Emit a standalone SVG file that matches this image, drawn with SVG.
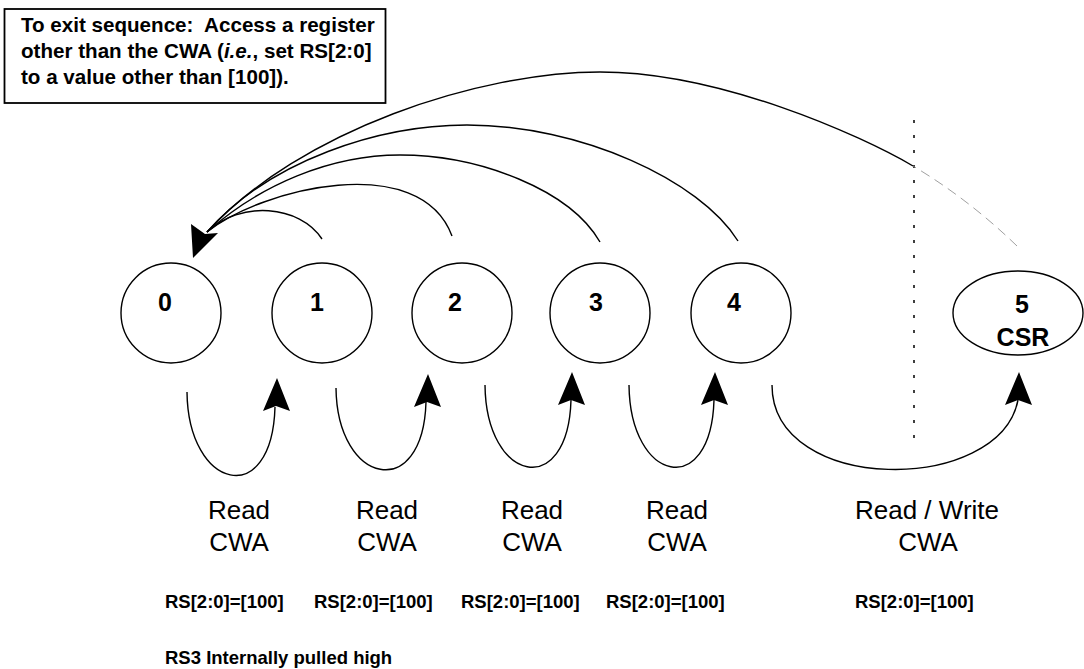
<svg xmlns="http://www.w3.org/2000/svg" xmlns:xlink="http://www.w3.org/1999/xlink" width="1084" height="669" viewBox="0 0 1084 669">
<style>
.node{fill:none;stroke:#000;stroke-width:1.4}
.conn{fill:none;stroke:#000;stroke-width:1.4}
.faint{fill:none;stroke:#888;stroke-width:0.8;stroke-dasharray:10 6}
.sep{fill:none;stroke:#000;stroke-width:1.5;stroke-dasharray:3 12}
.head{fill:#000;stroke:none}
.num{font-family:"Liberation Sans",Arial,sans-serif;font-weight:bold;font-size:25px;text-anchor:middle}
.lbl{font-family:"Liberation Sans",Arial,sans-serif;font-size:26px;text-anchor:middle}
.rs{font-family:"Liberation Sans",Arial,sans-serif;font-weight:bold;font-size:18.5px}
.note{font-family:"Liberation Sans",Arial,sans-serif;font-weight:bold;font-size:20.6px}
</style>
<defs>
<path id="upHead" d="M0,0 L13,33 L-1,28 L-14,33 Z"/>
</defs>
<rect width="1084" height="669" fill="#fff"/>

<g id="note">
<rect x="4.5" y="9" width="381" height="94" fill="#fff" stroke="#000" stroke-width="1.8"/>
<text class="note" x="21" y="32" xml:space="preserve">To exit sequence:  Access a register</text>
<text class="note" x="21" y="58">other than the CWA (<tspan font-style="italic">i.e.</tspan>, set RS[2:0]</text>
<text class="note" x="21" y="84">to a value other than [100]).</text>
</g>

<g id="node0"><circle class="node" cx="171" cy="313" r="50"/><text class="num" x="165" y="311">0</text></g>
<g id="node1"><circle class="node" cx="322" cy="313" r="50"/><text class="num" x="317" y="311">1</text></g>
<g id="node2"><circle class="node" cx="462" cy="313" r="50"/><text class="num" x="455" y="311">2</text></g>
<g id="node3"><circle class="node" cx="600" cy="313" r="50"/><text class="num" x="596" y="311">3</text></g>
<g id="node4"><circle class="node" cx="741" cy="313" r="50"/><text class="num" x="734" y="311">4</text></g>
<g id="node5"><ellipse class="node" cx="1018" cy="313" rx="65" ry="42"/><text class="num" x="1022" y="313">5</text><text class="num" x="1023" y="346">CSR</text></g>

<g id="separator">
<path class="sep" d="M914,120 V440"/>
</g>

<g id="connectors">
<path class="conn" d="M322,239 C300,205 240,200 207,232"/>
<path class="conn" d="M452,236 C420,150 262,188 207,232"/>
<path class="conn" d="M600,242 C570,190 480,155 400,155 C330,155 260,185 207,232"/>
<path class="conn" d="M738,241 C700,180 580,125 467,125 C380,125 270,160 207,232"/>
<path class="conn" d="M913,166 C860,135 720,72 600,72 C480,72 300,130 207,232"/>
<path class="faint" d="M1017,246 C985,215 950,188 913,166"/>
<path class="head" d="M193,258 L191,224 L205,234 L218,233 Z"/>

<path class="conn" d="M187,392 C188,490 272,510 275,407"/>
<use xlink:href="#upHead" href="#upHead" class="head" x="277" y="378"/>
<path class="conn" d="M336,388 C337,485 423,503 426,402"/>
<use xlink:href="#upHead" href="#upHead" class="head" x="428" y="374"/>
<path class="conn" d="M485,385 C486,483 568,500 571,400"/>
<use xlink:href="#upHead" href="#upHead" class="head" x="572" y="372"/>
<path class="conn" d="M629,385 C630,483 711,500 714,400"/>
<use xlink:href="#upHead" href="#upHead" class="head" x="715" y="372"/>
<path class="conn" d="M772,385 C772,495 1000,495 1018,400"/>
<use xlink:href="#upHead" href="#upHead" class="head" x="1019" y="372"/>
</g>

<g id="labels">
<text class="lbl" x="239" y="519">Read</text><text class="lbl" x="239" y="551">CWA</text>
<text class="lbl" x="387" y="519">Read</text><text class="lbl" x="387" y="551">CWA</text>
<text class="lbl" x="532" y="519">Read</text><text class="lbl" x="532" y="551">CWA</text>
<text class="lbl" x="677" y="519">Read</text><text class="lbl" x="677" y="551">CWA</text>
<text class="lbl" x="927" y="519">Read / Write</text><text class="lbl" x="928" y="551">CWA</text>
<text class="rs" x="165" y="608">RS[2:0]=[100]</text>
<text class="rs" x="314" y="608">RS[2:0]=[100]</text>
<text class="rs" x="461" y="608">RS[2:0]=[100]</text>
<text class="rs" x="606" y="608">RS[2:0]=[100]</text>
<text class="rs" x="855" y="608">RS[2:0]=[100]</text>
<text class="rs" x="165" y="664">RS3 Internally pulled high</text>
</g>
</svg>
